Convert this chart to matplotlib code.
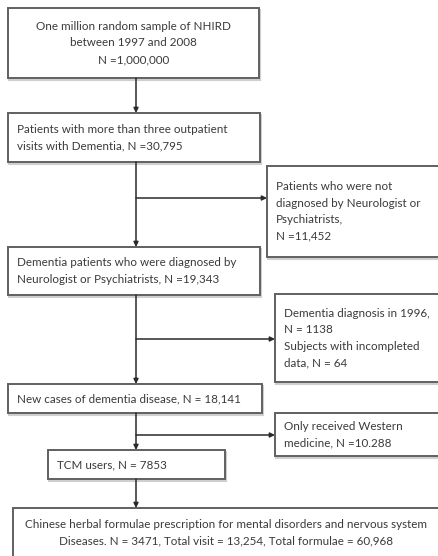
"""Flow chart of the study population"""
import matplotlib.pyplot as plt
from matplotlib.patches import Rectangle

# %%
# box texts
main_texts = [
    "One million random sample of NHIRD\nbetween 1997 and 2008\nN =1,000,000",
    "Patients with more than three outpatient\nvisits with Dementia, N =30,795",
    "Dementia patients who were diagnosed by\nNeurologist or Psychiatrists, N =19,343",
    "New cases of dementia disease, N = 18,141",
    "TCM users, N = 7853",
    "Chinese herbal formulae prescription for mental disorders and nervous system\n"
    "Diseases. N = 3471, Total visit = 13,254, Total formulae = 60,968",
]
side_texts = [
    "Patients who were not\ndiagnosed by Neurologist or\nPsychiatrists,\nN =11,452",
    "Dementia diagnosis in 1996,\nN = 1138\nSubjects with incompleted\ndata, N = 64",
    "Only received Western\nmedicine, N =10.288",
]

# %%
W, H = 439, 556
fig = plt.figure(figsize=(W / 100, H / 100), dpi=100)
ax = fig.add_axes([0, 0, 1, 1])
ax.set_xlim(0, W)
ax.set_ylim(H, 0)
ax.axis('off')

edge = '#606060'
tcol = '#3a3a3a'
font = dict(family='Lato', fontsize=8.4, color=tcol, linespacing=1.62)

# main boxes: x0, y0, x1, y1, alignment
main_boxes = [
    (8, 8, 259, 78, 'center'),
    (8, 113, 260, 162, 'left'),
    (8, 247, 260, 295, 'left'),
    (8, 384, 262, 413, 'left'),
    (48, 450, 225, 479, 'left'),
    (13, 508, 445, 570, 'center'),
]
side_boxes = [
    (267, 166, 445, 257),
    (275, 294, 445, 382),
    (275, 413, 445, 456),
]
branch_y = [198, 339, 435]
xc = 136


def box(x0, y0, x1, y1):
    ax.add_patch(Rectangle((x0 + 1.5, y0 + 1.5), x1 - x0, y1 - y0, fc='none',
                           ec='#cfcfcf', lw=1.5))
    ax.add_patch(Rectangle((x0, y0), x1 - x0, y1 - y0, fc='white', ec=edge, lw=1.4))


for (x0, y0, x1, y1, al), txt in zip(main_boxes, main_texts):
    box(x0, y0, x1, y1)
    if al == 'center':
        ax.text((x0 + min(x1, W)) / 2, y0 + 11 if y1 > H else (y0 + y1) / 2, txt,
                ha='center', va='top' if y1 > H else 'center', multialignment='center', **font)
    else:
        ax.text(x0 + 9, (y0 + y1) / 2, txt, ha='left', va='center', **font)

for (x0, y0, x1, y1), txt in zip(side_boxes, side_texts):
    box(x0, y0, x1, y1)
    ax.text(x0 + 9, (y0 + y1) / 2, txt, ha='left', va='center', **font)

arrow = dict(arrowstyle='-|>', color='#2a2a2a', lw=1.1, mutation_scale=7,
             shrinkA=0, shrinkB=0)
for i in range(len(main_boxes) - 1):
    ax.annotate('', xy=(xc, main_boxes[i + 1][1]), xytext=(xc, main_boxes[i][3]),
                arrowprops=arrow)
for y, sb in zip(branch_y, side_boxes):
    ax.annotate('', xy=(sb[0], y), xytext=(xc, y), arrowprops=arrow)

plt.savefig('out.png', dpi=100)
